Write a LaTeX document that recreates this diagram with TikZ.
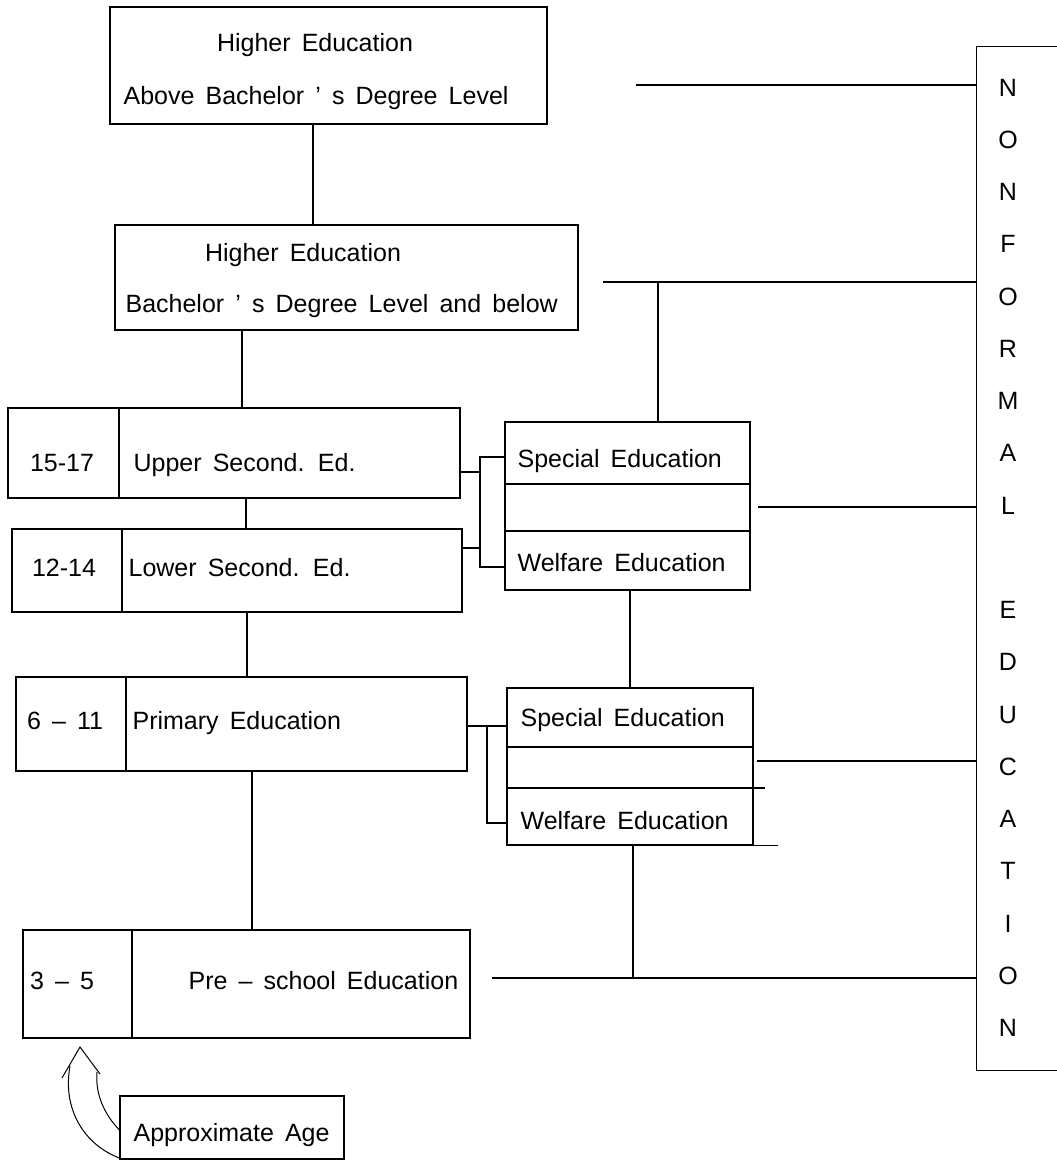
\documentclass[tikz,border=0pt]{standalone}
\usepackage{fontspec}
\setmainfont{Liberation Sans}[WordSpace=1.6]
\begin{document}
\begin{tikzpicture}[x=1pt,y=-1pt,line width=1.2pt,
  box/.style={draw,rectangle,inner sep=0pt},
  txt/.style={inner sep=0pt,font=\fontsize{25}{30}\selectfont},
  ltxt/.style={txt,anchor=base west},
  ctxt/.style={txt,anchor=base}]
\useasboundingbox (0,0) rectangle (1057,1162);

% ---- boxes
\node[box,minimum width=437pt,minimum height=117pt] (A) at (328.5,65.5) {};
\node[box,minimum width=463pt,minimum height=105pt] (B) at (346.5,277.5) {};
\node[box,minimum width=452pt,minimum height=90pt]  (C) at (234,453) {};
\node[box,minimum width=450pt,minimum height=83pt]  (D) at (237,570.5) {};
\node[box,minimum width=451pt,minimum height=94pt]  (P) at (241.5,724) {};
\node[box,minimum width=447pt,minimum height=108pt] (S) at (246.5,984) {};
\node[box,minimum width=245pt,minimum height=168pt] (E) at (627.5,506) {};
\node[box,minimum width=246pt,minimum height=157pt] (F) at (630,766.5) {};
\node[rectangle,inner sep=0pt,minimum width=80pt,minimum height=1023pt] (NF) at (1017,558.5) {};
\node[box,minimum width=224pt,minimum height=63pt] (AG) at (232,1127.5) {};
\draw (NF.north east) -- (NF.north west) -- (NF.south west) -- (NF.south east);

% ---- texts
\node[ctxt] (a1) at (315,51) {Higher  Education};
\node[ltxt] (a2) at (123,104) {Above Bachelor ' s Degree Level};
\node[ctxt] (b1) at (303,261) {Higher Education};
\node[ltxt] (b2) at (125,312) {Bachelor ' s Degree Level and below};
\node[ctxt] (c1) at (62,471) {15-17};
\node[ltxt] (c2) at (133,471) {Upper Second. Ed.};
\node[ctxt] (d1) at (64,576) {12-14};
\node[ltxt] (d2) at (128,576) {Lower Second. Ed.};
\node[ctxt] (p1) at (65,729) {6 – 11};
\node[ltxt] (p2) at (132,729) {Primary Education};
\node[ctxt] (s1) at (62,989) {3 – 5};
\node[ltxt] (s2) at (188,989) {Pre – school Education};
\node[ltxt] (e1) at (517,467) {Special Education};
\node[ltxt] (e2) at (517,571) {Welfare Education};
\node[ltxt] (f1) at (520,726) {Special Education};
\node[ltxt] (f2) at (520,829) {Welfare Education};
\node[ltxt] (ag) at (133,1141) {Approximate Age};

\foreach \l [count=\k from 0] in {N,O,N,F,O,R,M,A,L,,E,D,U,C,A,T,I,O,N}
  \node[ctxt] (nf\k) at (1008,{96+52.25*\k}) {\l};

% ---- named coordinates
\coordinate (xcd) at (119,0);
\coordinate (xdd) at (122,0);
\coordinate (xpd) at (126,0);
\coordinate (xsd) at (132,0);
\coordinate (xab) at (313,0);
\coordinate (xbc) at (242,0);
\coordinate (xcdd) at (246,0);
\coordinate (xdp) at (247,0);
\coordinate (xps) at (252,0);
\coordinate (xbe) at (658,0);
\coordinate (xef) at (630,0);
\coordinate (xfs) at (633,0);
\coordinate (bx) at (480,0);
\coordinate (bx2) at (487,0);
\coordinate (ye1) at (0,484);
\coordinate (ye2) at (0,531);
\coordinate (yf1) at (0,747);
\coordinate (yf2) at (0,788);
\coordinate (yc) at (0,472);
\coordinate (yd) at (0,548);
\coordinate (yes) at (0,457);
\coordinate (yew) at (0,567);
\coordinate (yp) at (0,726);
\coordinate (yfw) at (0,823);
\coordinate (ha) at (636,85);
\coordinate (hb) at (603,282);
\coordinate (he) at (758,507);
\coordinate (hf) at (757,761);
\coordinate (hs) at (492,978);
\coordinate (xov1) at (765,0);
\coordinate (xov2) at (778,0);

% ---- dividers and separators
\draw (C.north -| xcd) -- (C.south -| xcd);
\draw (D.north -| xdd) -- (D.south -| xdd);
\draw (P.north -| xpd) -- (P.south -| xpd);
\draw (S.north -| xsd) -- (S.south -| xsd);
\draw (E.west |- ye1) -- (E.east |- ye1);
\draw (E.west |- ye2) -- (E.east |- ye2);
\draw (F.west |- yf1) -- (F.east |- yf1);
\draw (F.west |- yf2) -- (xov1 |- yf2);
\draw (F.south east) -- (xov2 |- F.south);

% ---- vertical connectors of the main column
\draw (A.south -| xab) -- (B.north -| xab);
\draw (B.south -| xbc) -- (C.north -| xbc);
\draw (C.south -| xcdd) -- (D.north -| xcdd);
\draw (D.south -| xdp) -- (P.north -| xdp);
\draw (P.south -| xps) -- (S.north -| xps);

% ---- brackets to special / welfare boxes
\draw (C.east |- yc) -- (bx |- yc);
\draw (D.east |- yd) -- (bx |- yd);
\draw (E.west |- yes) -- (bx |- yes) -- (bx |- yew) -- (E.west |- yew);
\draw (P.east |- yp) -- (F.west |- yp);
\draw (bx2 |- yp) -- (bx2 |- yfw) -- (F.west |- yfw);

% ---- connectors to non-formal education
\draw (ha) -- (ha -| NF.west);
\draw (hb) -- (hb -| NF.west);
\draw (hb -| xbe) -- (E.north -| xbe);
\draw (he) -- (he -| NF.west);
\draw (hf) -- (hf -| NF.west);
\draw (E.south -| xef) -- (F.north -| xef);
\draw (F.south -| xfs) -- (hs -| xfs);
\draw (hs) -- (hs -| NF.west);

% ---- hand drawn arrow
\coordinate (tip) at (80,1047);
\coordinate (ab1) at (62,1078);
\coordinate (ab2) at (100,1074);
\coordinate (ag1) at (AG.west |- 0,1158);
\coordinate (ag3) at (AG.west |- 0,1130);
\draw[line width=1pt] (ab1) -- (tip) -- (ab2);
\draw[line width=1pt] (ag1) .. controls (85,1145) and (62,1110) .. (70,1066);
\draw[line width=1pt] (ag3) .. controls (105,1115) and (95,1095) .. (97,1072);
\end{tikzpicture}
\end{document}
